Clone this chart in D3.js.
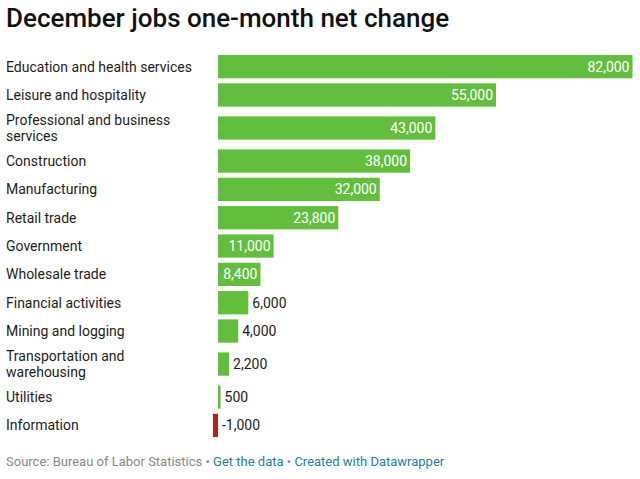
<!DOCTYPE html>
<html>
<head>
<meta charset="utf-8">
<script src="https://cdn.jsdelivr.net/npm/d3@7"></script>
<style>
  html, body { margin: 0; padding: 0; background: #fff; }
  svg { display: block; font-family: Roboto, "Noto Sans", sans-serif; }
</style>
</head>
<body>
<svg id="chart" width="640" height="479"></svg>
<script>
const title = "December jobs one-month net change";
const categories = [
  "Education and health services",
  "Leisure and hospitality",
  "Professional and business services",
  "Construction",
  "Manufacturing",
  "Retail trade",
  "Government",
  "Wholesale trade",
  "Financial activities",
  "Mining and logging",
  "Transportation and warehousing",
  "Utilities",
  "Information"
];
const values = [82000, 55000, 43000, 38000, 32000, 23800, 11000, 8400, 6000, 4000, 2200, 500, -1000];
const sourceText = "Source: Bureau of Labor Statistics";
const footerLinks = ["Get the data", "Created with Datawrapper"];

const W = 640, H = 479;
const svg = d3.select("#chart");

const fmt = d3.formatLocale({decimal: ".", thousands: ",", grouping: [3], currency: ["$", ""], minus: "-"}).format(",");

// Title
svg.append("text")
  .attr("x", 6).attr("y", 26.5)
  .attr("font-size", 26).attr("font-weight", 500)
  .attr("fill", "#111")
  .text(title);

const x = d3.scaleLinear().domain([0, d3.max(values)]).range([218, 632.5]);

// Wrap labels by measuring
const labelMax = 196;
const measure = svg.append("text").attr("font-size", 14).attr("visibility", "hidden");
function wrap(str) {
  const words = str.split(" ");
  const lines = [];
  let cur = "";
  words.forEach(w => {
    const t = cur ? cur + " " + w : w;
    measure.text(t);
    if (measure.node().getComputedTextLength() > labelMax && cur) {
      lines.push(cur); cur = w;
    } else cur = t;
  });
  lines.push(cur);
  return lines;
}
const rows = categories.map((c, i) => ({name: c, value: values[i], lines: wrap(c)}));
measure.remove();

const rowH1 = 28.33, extraLine = 9.4, barH = 23.3, lineH = 16.5;
let yCur = 52.5;
rows.forEach(r => {
  r.h = rowH1 + (r.lines.length - 1) * extraLine;
  r.cy = yCur + r.h / 2;
  yCur += r.h;
});

const g = svg.append("g");
const row = g.selectAll("g.row").data(rows).join("g").attr("class", "row");

row.append("rect")
  .attr("x", d => Math.min(x(d.value), x(0)))
  .attr("width", d => Math.abs(x(d.value) - x(0)))
  .attr("y", d => d.cy - barH / 2)
  .attr("height", barH)
  .attr("fill", d => d.value < 0 ? "#b3221c" : "#64be3d");

row.append("text")
  .attr("x", 6)
  .attr("font-size", 14)
  .attr("fill", "#1d1d1d")
  .each(function(d) {
    const t = d3.select(this);
    const n = d.lines.length;
    d.lines.forEach((ln, k) => {
      t.append("tspan")
        .attr("x", 6)
        .attr("y", d.cy + 5 + (k - (n - 1) / 2) * lineH)
        .text(ln);
    });
  });

row.append("text")
  .attr("font-size", 14)
  .attr("y", d => d.cy + 5)
  .text(d => fmt(d.value))
  .each(function(d) {
    const t = d3.select(this);
    const tw = this.getComputedTextLength();
    const bw = Math.abs(x(d.value) - x(0));
    if (d.value > 0 && tw + 8 < bw) {
      t.attr("x", x(d.value) - 3).attr("text-anchor", "end").attr("fill", "#fff");
    } else {
      t.attr("x", Math.max(x(d.value), x(0)) + 4).attr("text-anchor", "start").attr("fill", "#1d1d1d");
    }
  });

// Footer
const foot = svg.append("text").attr("x", 6).attr("y", 466).attr("font-size", 13);
foot.append("tspan").attr("fill", "#888").text(sourceText);
footerLinks.forEach(l => {
  foot.append("tspan").attr("fill", "#888").text(" \u2022 ");
  foot.append("tspan").attr("fill", "#1d81a2").text(l);
});
</script>
</body>
</html>
